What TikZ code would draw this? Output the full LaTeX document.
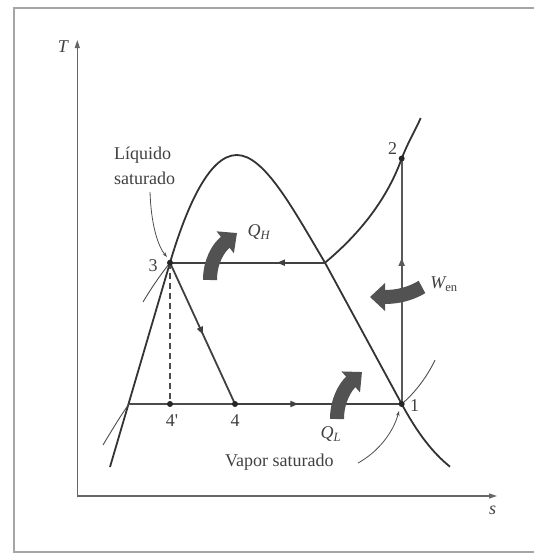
\documentclass[tikz,border=0pt]{standalone}
\usepackage{fontspec}
\setmainfont{Liberation Serif}
\usetikzlibrary{arrows.meta,decorations.markings}
\begin{document}
\begin{tikzpicture}[x=1pt,y=-1pt,
  curve/.style={line width=1.8pt, draw=black!80},
  cyc/.style={line width=1.8pt, draw=black!75},
  thinline/.style={line width=0.9pt, draw=black!70},
  axis/.style={line width=1.2pt, draw=black!60, -{Triangle[length=8pt,width=5pt]}},
  dot/.style={circle, fill=black!85, inner sep=0pt, minimum size=6pt},
  lbl/.style={font=\fontsize{18}{20}\selectfont, text=black!75, inner sep=0pt},
  big/.style={line width=14pt, draw=black!68, -{Triangle[length=15pt,width=27pt]}},
  midarrow/.style={postaction={decorate}, decoration={markings, mark=at position #1 with {\arrow{Triangle[length=8pt,width=6pt]}}}},
  leader/.style={line width=0.8pt, draw=black!70, -{Stealth[length=5pt,width=3.5pt]}},
]
\useasboundingbox (0,0) rectangle (534,555);
\draw[black!35, line width=1.5pt] (534,8) -- (14,8) -- (14,552) -- (534,552);

% axes
\coordinate (O) at (77.3,496);
\coordinate (Ttop) at (77.3,40);
\coordinate (send) at (497,496);
\draw[axis] (O) -- (Ttop);
\draw[axis] (O) -- (send);
\node[lbl, font=\fontsize{18}{20}\selectfont\itshape] (Tl) at (63,47) {T};
\node[lbl, font=\fontsize{18}{20}\selectfont\itshape] (sl) at (492.7,510) {s};

% points
\coordinate (p3) at (170,262.7);
\coordinate (pR) at (325,262.7);
\coordinate (p1) at (401.7,404);
\coordinate (p2) at (401.7,158.5);
\coordinate (p4) at (235,404);
\coordinate (p4p) at (170,404);
\coordinate (pL) at (129,404);

% saturation dome
\draw[curve] (110,467) -- (p3)
  .. controls (185,212) and (208,155) .. (236.7,155)
  .. controls (264,155) and (292,207) .. (pR)
  -- (p1)
  .. controls (418,434) and (433,453) .. (450,466.7);

% superheated isobar
\draw[curve] (pR) .. controls (357,236) and (386,202) .. (p2)
  .. controls (409,140) and (415,131) .. (420.7,118);

% thin isobars
\draw[thinline] (143,302) .. controls (152,287) and (161,274) .. (p3);
\draw[thinline] (103,445) .. controls (112,430) and (121,415) .. (pL);
\draw[thinline] (435,360) .. controls (428,375) and (416,392) .. (p1);

% cycle
\draw[thinline, line width=1.2pt] (pL) -- (p4);
\draw[cyc, midarrow=0.38] (p4) -- (p1);
\draw[cyc, draw=black!65, midarrow=0.595] (p1) -- (p2);
\draw[cyc, midarrow=0.31] (pR) -- (p3);
\draw[cyc, midarrow=0.51] (p3) -- (p4);
\draw[line width=1.2pt, draw=black!70, dash pattern=on 6pt off 4pt] (p3) -- (p4p);

% dots
\node[dot] (d1) at (p1) {};
\node[dot] (d2) at (p2) {};
\node[dot] (d3) at (p3) {};
\node[dot] (d4) at (p4) {};
\node[dot] (d4p) at (p4p) {};

% point labels
\node[lbl] (l1) at (414.5,406) {1};
\node[lbl] (l2) at (392.7,149) {2};
\node[lbl] (l3) at (153,266) {3};
\node[lbl] (l4) at (235,421) {4};
\node[lbl] (l4p) at (172,421) {4\textquotesingle};

% heat / work arrows
\draw[big] (210,280) .. controls (210,262) and (218,248) .. (237,233);
\draw[big] (337,419) .. controls (337,401) and (345,387) .. (362,372);
\draw[big] (422,287) .. controls (410,294) and (398,297) .. (370,297);
\node[lbl] (QH) at (259,232) {\itshape Q\textsubscript{H}};
\node[lbl] (QL) at (331,434) {\itshape Q\textsubscript{L}};
\node[lbl] (Wen) at (444,284) {\itshape W\textsubscript{\upshape en}};

% annotations
\node[lbl, anchor=west] (liq1) at (114,155) {Líquido};
\node[lbl, anchor=west] (liq2) at (114,178) {saturado};
\node[lbl, anchor=west] (vap) at (225,462) {Vapor saturado};
\coordinate (liqS) at (150,192);
\coordinate (liqE) at (167,257);
\coordinate (vapS) at (358,463);
\coordinate (vapE) at (399,411);
\draw[leader] (liqS) .. controls (151,222) and (157,245) .. (liqE);
\draw[leader] (vapS) .. controls (378,452) and (393,433) .. (vapE);
\end{tikzpicture}
\end{document}
